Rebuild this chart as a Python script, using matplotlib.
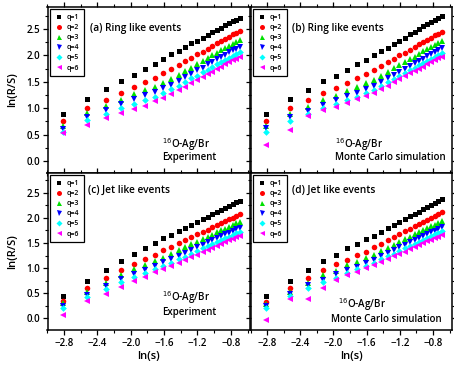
import numpy as np
import matplotlib
matplotlib.use("Agg")
import matplotlib.pyplot as plt
from matplotlib.ticker import MultipleLocator

plt.rcParams['font.family'] = ['Open Sans', 'DejaVu Sans']

# bin sizes s, plotted as ln(s)
s_vals = [0.06, 0.08, 0.10, 0.12, 0.14, 0.16, 0.18, 0.20, 0.22, 0.24, 0.26, 0.28,
          0.30, 0.32, 0.34, 0.36, 0.38, 0.40, 0.42, 0.44, 0.46, 0.48, 0.50]
ln_s = np.log(s_vals)

q_labels = ['q=1', 'q=2', 'q=3', 'q=4', 'q=5', 'q=6']

# (a) ring like events, experiment
ring_exp = [
    [0.89, 1.18, 1.36, 1.52, 1.63, 1.74, 1.83, 1.93, 2.02, 2.09, 2.16, 2.23, 2.28, 2.34, 2.39, 2.44, 2.48, 2.53, 2.57, 2.61, 2.65, 2.68, 2.72],
    [0.75, 1.00, 1.15, 1.29, 1.40, 1.50, 1.58, 1.66, 1.74, 1.82, 1.89, 1.95, 2.02, 2.07, 2.13, 2.18, 2.23, 2.27, 2.31, 2.36, 2.40, 2.43, 2.47],
    [0.67, 0.91, 1.04, 1.16, 1.26, 1.35, 1.41, 1.48, 1.55, 1.63, 1.70, 1.77, 1.83, 1.89, 1.95, 2.00, 2.05, 2.10, 2.14, 2.18, 2.22, 2.26, 2.30],
    [0.61, 0.84, 0.97, 1.07, 1.17, 1.25, 1.31, 1.38, 1.44, 1.52, 1.59, 1.65, 1.72, 1.77, 1.83, 1.88, 1.93, 1.97, 2.01, 2.06, 2.10, 2.13, 2.17],
    [0.55, 0.77, 0.89, 1.00, 1.08, 1.15, 1.22, 1.29, 1.36, 1.43, 1.50, 1.57, 1.62, 1.68, 1.73, 1.78, 1.83, 1.87, 1.91, 1.95, 1.99, 2.02, 2.06],
    [0.52, 0.69, 0.81, 0.90, 0.98, 1.05, 1.13, 1.20, 1.26, 1.34, 1.41, 1.47, 1.53, 1.59, 1.64, 1.69, 1.74, 1.78, 1.83, 1.87, 1.91, 1.94, 1.98],
]

# (b) ring like events, Monte Carlo
ring_mc = [
    [0.89, 1.17, 1.35, 1.51, 1.62, 1.73, 1.83, 1.92, 2.00, 2.08, 2.15, 2.22, 2.28, 2.34, 2.40, 2.45, 2.50, 2.55, 2.59, 2.63, 2.67, 2.71, 2.75],
    [0.76, 1.01, 1.15, 1.28, 1.39, 1.48, 1.57, 1.65, 1.72, 1.80, 1.87, 1.93, 2.00, 2.05, 2.11, 2.16, 2.21, 2.25, 2.29, 2.34, 2.38, 2.41, 2.45],
    [0.67, 0.89, 1.03, 1.15, 1.24, 1.33, 1.41, 1.47, 1.54, 1.62, 1.69, 1.76, 1.82, 1.88, 1.93, 1.98, 2.03, 2.08, 2.12, 2.16, 2.20, 2.24, 2.28],
    [0.62, 0.83, 0.95, 1.06, 1.15, 1.23, 1.29, 1.36, 1.42, 1.50, 1.57, 1.63, 1.69, 1.75, 1.80, 1.85, 1.90, 1.94, 1.99, 2.03, 2.07, 2.10, 2.14],
    [0.55, 0.76, 0.89, 1.00, 1.08, 1.15, 1.22, 1.28, 1.35, 1.42, 1.49, 1.55, 1.61, 1.67, 1.72, 1.76, 1.81, 1.85, 1.89, 1.93, 1.97, 2.01, 2.04],
    [0.30, 0.58, 0.85, 0.96, 1.03, 1.10, 1.18, 1.24, 1.29, 1.36, 1.43, 1.49, 1.55, 1.61, 1.66, 1.70, 1.75, 1.79, 1.83, 1.87, 1.91, 1.95, 1.98],
]

# (c) jet like events, experiment
jet_exp = [
    [0.45, 0.75, 0.97, 1.15, 1.29, 1.40, 1.50, 1.59, 1.66, 1.73, 1.80, 1.86, 1.92, 1.97, 2.02, 2.07, 2.11, 2.16, 2.19, 2.23, 2.27, 2.31, 2.34],
    [0.35, 0.60, 0.81, 0.97, 1.08, 1.19, 1.27, 1.35, 1.42, 1.49, 1.55, 1.61, 1.67, 1.72, 1.76, 1.81, 1.85, 1.89, 1.93, 1.97, 2.00, 2.04, 2.07],
    [0.30, 0.52, 0.71, 0.87, 0.98, 1.07, 1.15, 1.21, 1.28, 1.35, 1.41, 1.47, 1.52, 1.57, 1.62, 1.66, 1.71, 1.75, 1.78, 1.82, 1.85, 1.89, 1.92],
    [0.25, 0.47, 0.65, 0.79, 0.89, 0.97, 1.05, 1.12, 1.18, 1.25, 1.31, 1.36, 1.41, 1.46, 1.51, 1.55, 1.59, 1.63, 1.67, 1.70, 1.74, 1.77, 1.80],
    [0.20, 0.42, 0.59, 0.72, 0.82, 0.91, 0.99, 1.05, 1.11, 1.18, 1.23, 1.29, 1.34, 1.39, 1.43, 1.48, 1.52, 1.55, 1.59, 1.62, 1.66, 1.69, 1.72],
    [0.07, 0.35, 0.49, 0.63, 0.75, 0.83, 0.92, 0.99, 1.05, 1.11, 1.17, 1.22, 1.27, 1.32, 1.36, 1.40, 1.44, 1.48, 1.51, 1.55, 1.58, 1.61, 1.64],
]

# (d) jet like events, Monte Carlo
jet_mc = [
    [0.45, 0.75, 0.97, 1.15, 1.27, 1.39, 1.48, 1.57, 1.64, 1.72, 1.79, 1.85, 1.92, 1.97, 2.03, 2.08, 2.12, 2.17, 2.21, 2.26, 2.29, 2.33, 2.37],
    [0.32, 0.61, 0.81, 0.96, 1.08, 1.17, 1.27, 1.33, 1.41, 1.48, 1.55, 1.62, 1.67, 1.73, 1.78, 1.83, 1.87, 1.92, 1.96, 2.00, 2.04, 2.07, 2.11],
    [0.28, 0.52, 0.71, 0.86, 0.95, 1.06, 1.13, 1.21, 1.27, 1.34, 1.40, 1.46, 1.52, 1.57, 1.62, 1.67, 1.71, 1.75, 1.79, 1.83, 1.86, 1.90, 1.93],
    [0.25, 0.48, 0.67, 0.77, 0.88, 0.97, 1.03, 1.11, 1.17, 1.24, 1.30, 1.36, 1.41, 1.46, 1.51, 1.55, 1.60, 1.64, 1.67, 1.71, 1.74, 1.78, 1.81],
    [0.20, 0.45, 0.60, 0.72, 0.81, 0.91, 0.98, 1.05, 1.11, 1.18, 1.24, 1.29, 1.34, 1.39, 1.44, 1.48, 1.52, 1.56, 1.60, 1.63, 1.67, 1.70, 1.73],
    [-0.03, 0.39, 0.38, 0.60, 0.77, 0.86, 0.93, 1.00, 1.07, 1.13, 1.19, 1.24, 1.29, 1.33, 1.38, 1.42, 1.46, 1.49, 1.53, 1.56, 1.59, 1.62, 1.65],
]

colors = ['black', 'red', '#00e000', '#0000ff', '#00ffff', '#ff00ff']
markers = ['s', 'o', '^', 'v', 'D', '<']
msizes = [3.6, 4.0, 4.0, 4.0, 3.4, 4.0]

fig = plt.figure(figsize=(4.54, 3.65), dpi=100)

W, H = 454.0, 365.0
rects = {
    'a': [47.5 / W, 1 - 173 / H, 202.5 / W, 166 / H],
    'b': [250.5 / W, 1 - 173 / H, 201.5 / W, 166 / H],
    'c': [47.5 / W, 1 - 330 / H, 202.5 / W, 157 / H],
    'd': [250.5 / W, 1 - 330 / H, 201.5 / W, 157 / H],
}

panels = [
    ('a', ring_exp, '(a) Ring like events', 'Experiment', (-0.23, 2.92)),
    ('b', ring_mc, '(b) Ring like events', 'Monte Carlo simulation', (-0.23, 2.92)),
    ('c', jet_exp, '(c) Jet like events', 'Experiment', (-0.23, 2.89)),
    ('d', jet_mc, '(d) Jet like events', 'Monte Carlo simulation', (-0.23, 2.89)),
]

# text placement per panel (axes fraction): title, nucleus line, source line
text_pos = {
    'a': ((0.21, 0.87), (0.565, 0.172), (0.565, 0.092)),
    'b': ((0.204, 0.87), (0.42, 0.172), (0.42, 0.092)),
    'c': ((0.20, 0.887), (0.565, 0.205), (0.565, 0.11)),
    'd': ((0.204, 0.887), (0.435, 0.16), (0.40, 0.064)),
}

for key, data, title, source, ylim in panels:
    ax = fig.add_axes(rects[key])
    for i, ys in enumerate(data):
        ax.plot(ln_s, ys, linestyle='none', marker=markers[i], color=colors[i],
                markersize=msizes[i], markeredgewidth=0, label=q_labels[i])
    ax.set_xlim(-3.0, -0.57)
    ax.set_ylim(*ylim)
    ax.xaxis.set_major_locator(MultipleLocator(0.4))
    ax.xaxis.set_minor_locator(MultipleLocator(0.2))
    ax.yaxis.set_major_locator(MultipleLocator(0.5))
    ax.yaxis.set_minor_locator(MultipleLocator(0.25))
    ax.tick_params(which='major', direction='out', length=3.5, width=0.9,
                   labelsize=7, top=True, right=True, pad=2)
    ax.tick_params(which='minor', direction='out', length=2, width=0.8,
                   top=True, right=True)
    for lab in ax.get_xticklabels() + ax.get_yticklabels():
        lab.set_fontweight('semibold')
    for sp in ax.spines.values():
        sp.set_linewidth(1.1)

    if key in ('a', 'b'):
        ax.tick_params(labelbottom=False)
    else:
        ax.set_xlabel('ln(s)', fontsize=8, fontweight='semibold', labelpad=2)
    if key in ('b', 'd'):
        ax.tick_params(labelleft=False)
    else:
        ax.set_ylabel('ln(R/S)', fontsize=8, fontweight='semibold', labelpad=6)

    tpos, npos, spos = text_pos[key]
    ax.text(tpos[0], tpos[1], title, transform=ax.transAxes, fontsize=7.3,
            fontweight='semibold', va='center', ha='left')
    ax.text(npos[0], npos[1], r'$^{16}$O-Ag/Br', transform=ax.transAxes,
            fontsize=7, fontweight='semibold', va='center', ha='left')
    ax.text(spos[0], spos[1], source, transform=ax.transAxes, fontsize=7,
            fontweight='semibold', va='center', ha='left')

    leg = ax.legend(loc='upper left', fontsize=5, frameon=True, fancybox=False,
                    edgecolor='black', framealpha=1, borderaxespad=0.3,
                    handletextpad=0.6, labelspacing=0.45, borderpad=0.7,
                    handlelength=1.2, markerscale=0.9)
    leg.get_frame().set_linewidth(0.9)
    for t in leg.get_texts():
        t.set_fontweight('semibold')

fig.savefig('out.png', dpi=100)
